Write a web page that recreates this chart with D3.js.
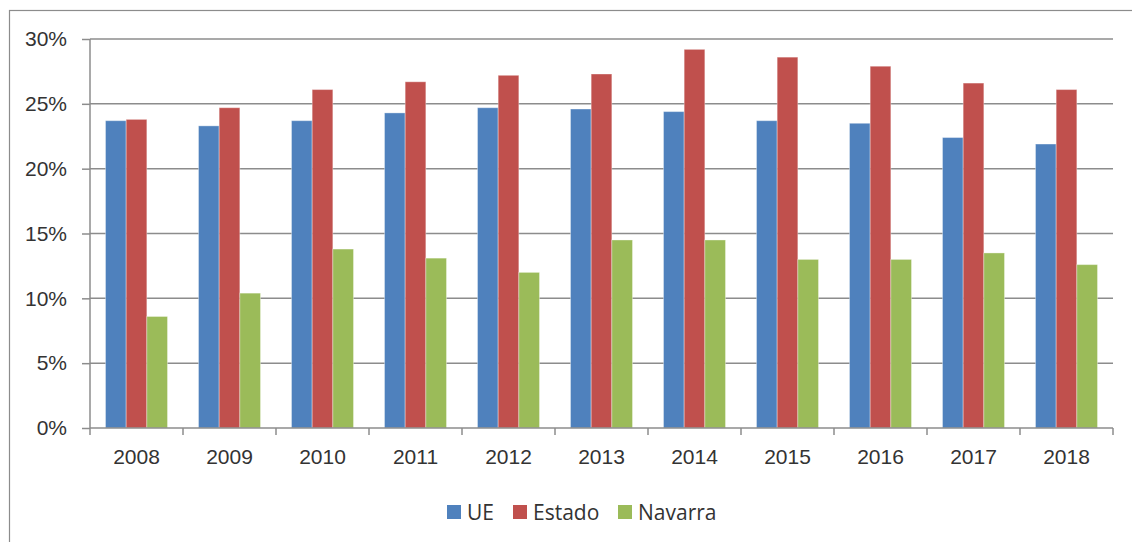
<!DOCTYPE html>
<html>
<head>
<meta charset="utf-8">
<script src="https://cdn.jsdelivr.net/npm/d3@7"></script>
<style>
  body { margin: 0; background: #fff; }
  svg { display: block; font-family: "Open Sans", Lato, sans-serif; }
</style>
</head>
<body>
<div id="chart"></div>
<script>
const years = ["2008", "2009", "2010", "2011", "2012", "2013", "2014", "2015", "2016", "2017", "2018"];
const seriesNames = ["UE", "Estado", "Navarra"];
const ue = [23.7, 23.3, 23.7, 24.3, 24.7, 24.6, 24.4, 23.7, 23.5, 22.4, 21.9];
const estado = [23.8, 24.7, 26.1, 26.7, 27.2, 27.3, 29.2, 28.6, 27.9, 26.6, 26.1];
const navarra = [8.6, 10.4, 13.8, 13.1, 12.0, 14.5, 14.5, 13.0, 13.0, 13.5, 12.6];
const yTicks = [0, 5, 10, 15, 20, 25, 30];
const colors = ["#4F81BD", "#C0504D", "#9BBB59"];

function drawChart(containerId) {
  const W = 1132, H = 542;
  const margin = { top: 39, right: 19, bottom: 114, left: 90 },
        width = W - margin.left - margin.right,
        height = H - margin.top - margin.bottom;

  d3.select(`#${containerId}`).html("");
  const root = d3.select(`#${containerId}`)
    .append("svg")
      .attr("width", W)
      .attr("height", H);

  // outer frame
  root.append("rect")
    .attr("x", 9.5).attr("y", 10.5)
    .attr("width", W + 20).attr("height", H + 20)
    .attr("fill", "none")
    .attr("stroke", "#8c8c8c")
    .attr("stroke-width", 1.2);

  const svg = root.append("g")
    .attr("transform", `translate(${margin.left},${margin.top})`);

  const data = years.map((yr, i) => ({ year: yr, values: [ue[i], estado[i], navarra[i]] }));

  const x = d3.scaleBand()
    .domain(years)
    .range([0, width])
    .paddingInner(1 / 3)
    .paddingOuter(1 / 6);

  const xs = d3.scaleBand()
    .domain(d3.range(seriesNames.length))
    .range([0, x.bandwidth()]);

  const y = d3.scaleLinear()
    .domain([0, 30])
    .range([height, 0]);

  // gridlines
  svg.append("g")
    .selectAll("line")
    .data(yTicks.filter(d => d > 0))
    .join("line")
      .attr("x1", 0).attr("x2", width)
      .attr("y1", d => y(d)).attr("y2", d => y(d))
      .attr("stroke", "#8c8c8c")
      .attr("stroke-width", 1.5);

  // bars
  svg.append("g")
    .selectAll("g")
    .data(data)
    .join("g")
      .attr("transform", d => `translate(${x(d.year)},0)`)
    .selectAll("rect")
    .data(d => d.values.map((v, k) => ({ k, v })))
    .join("rect")
      .attr("x", d => xs(d.k))
      .attr("y", d => y(d.v))
      .attr("width", xs.bandwidth())
      .attr("height", d => y(0) - y(d.v))
      .attr("fill", d => colors[d.k])
      .attr("stroke", "rgba(255,255,255,0.35)")
      .attr("stroke-width", 1);

  // y axis
  const yAxis = svg.append("g")
    .call(d3.axisLeft(y).tickValues(yTicks).tickFormat(d => d + "%").tickSize(8).tickPadding(8));
  yAxis.select(".domain").attr("stroke", "#8c8c8c").attr("stroke-width", 1.5).attr("d", `M0,${height}V0`);
  yAxis.selectAll(".tick line").attr("stroke", "#8c8c8c").attr("stroke-width", 1.5);
  yAxis.selectAll("text").attr("fill", "#333").style("font-size", "21px").attr("dx", "-7");

  // x axis
  const xAxis = svg.append("g")
    .attr("transform", `translate(0,${height})`)
    .call(d3.axisBottom(x).tickSize(0).tickPadding(21));
  xAxis.select(".domain").attr("stroke", "#8c8c8c").attr("stroke-width", 1.5).attr("d", `M0,0H${width}`);
  xAxis.selectAll("text").attr("fill", "#333").style("font-size", "21px");

  // category boundary ticks
  const bounds = years.map(yr => x(yr) - (x.step() - x.bandwidth()) / 2).concat([width]);
  xAxis.append("g")
    .selectAll("line")
    .data(bounds)
    .join("line")
      .attr("x1", d => d).attr("x2", d => d)
      .attr("y1", 0).attr("y2", 7)
      .attr("stroke", "#8c8c8c")
      .attr("stroke-width", 1.5);

  // legend
  const legendX = [447, 513, 618];
  const legend = root.append("g")
    .selectAll("g")
    .data(seriesNames)
    .join("g")
      .attr("transform", (d, i) => `translate(${legendX[i]},505)`);
  legend.append("rect")
    .attr("width", 14).attr("height", 14)
    .attr("fill", (d, i) => colors[i]);
  legend.append("text")
    .attr("x", 20).attr("y", 14.5)
    .attr("fill", "#333")
    .style("font-size", "21px")
    .text(d => d);
}

document.addEventListener("DOMContentLoaded", function () {
  drawChart("chart");
});
</script>
</body>
</html>
